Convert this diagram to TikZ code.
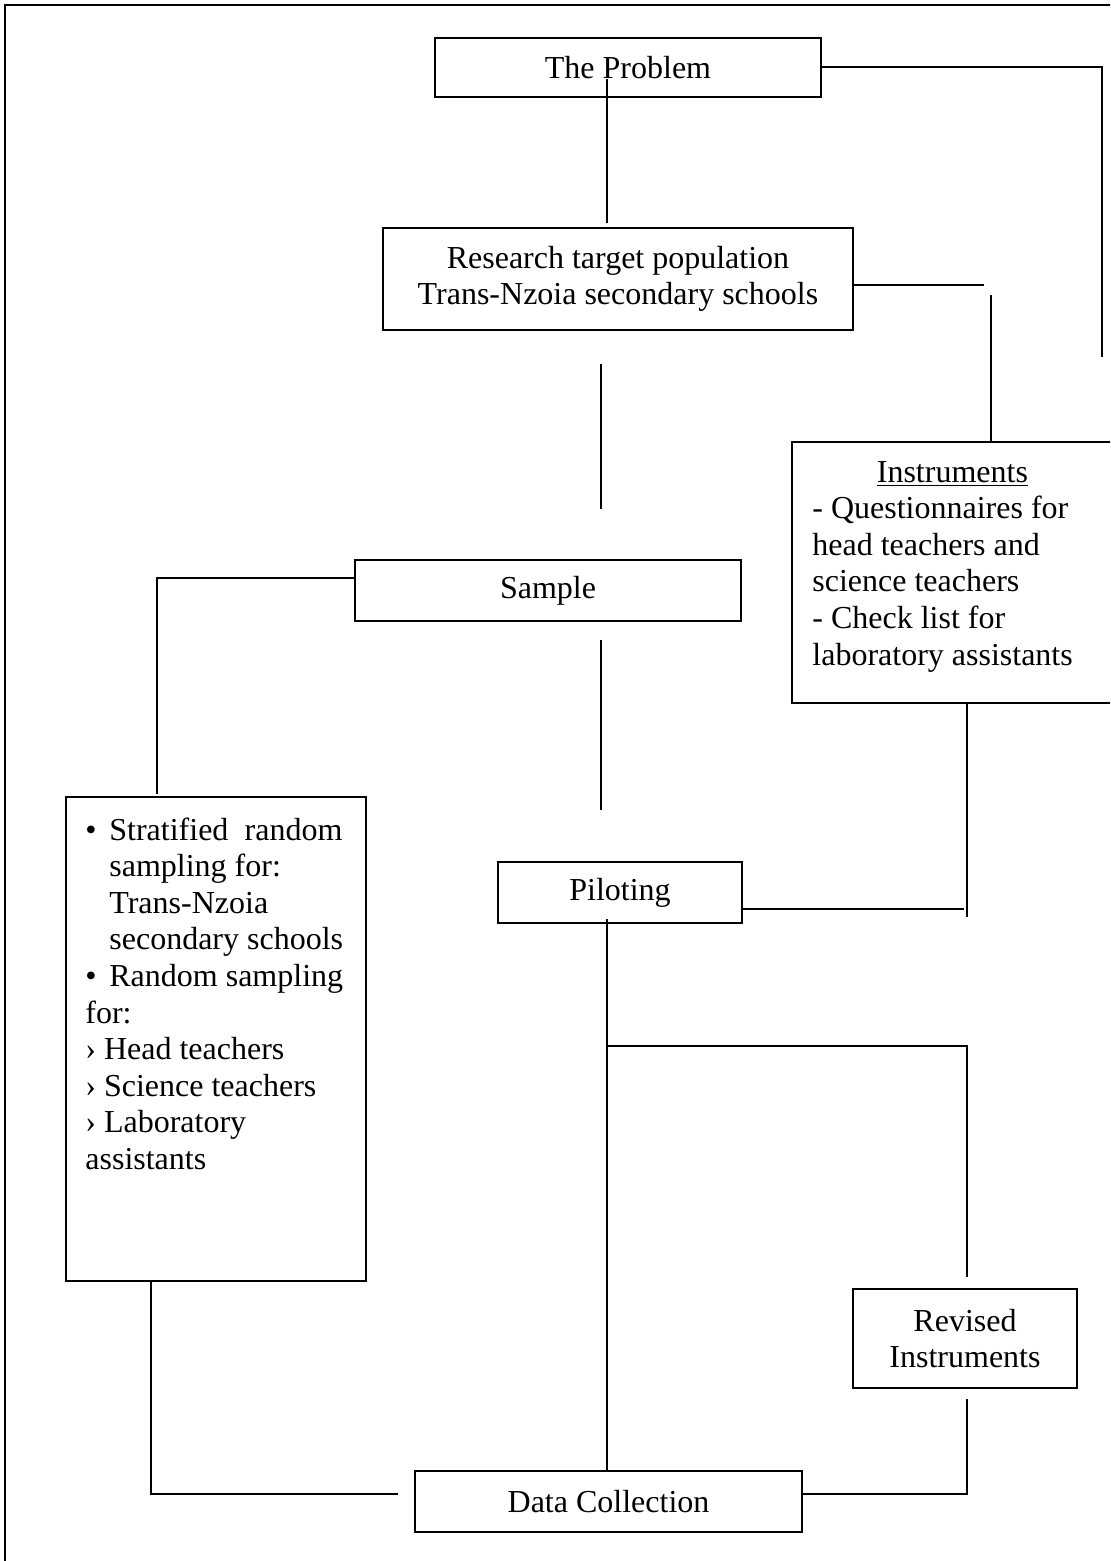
\documentclass[tikz,border=0pt]{standalone}
\usepackage{fontspec}
\setmainfont{Liberation Serif}
\begin{document}
\begin{tikzpicture}[x=0.5pt,y=-0.5pt,
  box/.style={draw, line width=1pt, inner sep=0pt, font=\fontsize{16pt}{18.3pt}\selectfont},
  txt/.style={inner sep=0pt, font=\fontsize{16pt}{18.3pt}\selectfont},
  conn/.style={line width=1pt},
  frame/.style={line width=1pt}]
\useasboundingbox (0,0) rectangle (1110,1561);
\clip (0,0) rectangle (1110,1561);
\draw[frame] (5,5) rectangle (1130,1580);

% boxes
\node[box, minimum width=193pt, minimum height=29.5pt] (prob) at (628,67.5) {The Problem};
\node[box, align=center, minimum width=235pt, minimum height=51pt] (res) at (618,279) {Research target population\\Trans-Nzoia secondary schools};
\node[box, minimum width=162pt, minimum height=130.5pt] (inst) at (954,572.5) {};
\node[txt, anchor=base west] (insttxt) at (812,482) {\parbox[t]{140pt}{\centering\underline{Instruments}\par\raggedright
- Questionnaires for\\
head teachers and\\
science teachers\\
- Check list for\\
laboratory assistants}};
\node[box, minimum width=193pt, minimum height=30.5pt] (samp) at (548,590.5) {Sample};
\node[box, minimum width=150pt, minimum height=242pt] (strat) at (216,1039) {};
\node[txt, anchor=base west] (strattxt) at (85,840) {\parbox[t]{135pt}{\raggedright
\makebox[12pt][l]{\textbullet}\hbox to 116.5pt{Stratified\hfil random}\\
\hspace*{12pt}sampling for:\\
\hspace*{12pt}Trans-Nzoia\\
\hspace*{12pt}secondary schools\\
\makebox[12pt][l]{\textbullet}Random sampling\\
for:\\
› Head teachers\\
› Science teachers\\
› Laboratory\\
assistants}};
\node[box, minimum width=122pt, minimum height=30.5pt] (pilot) at (620,892.5) {Piloting};
\node[box, align=center, minimum width=112pt, minimum height=49.5pt] (rev) at (965,1338.5) {Revised\\Instruments};
\node[box, minimum width=193.5pt, minimum height=30.5pt] (data) at (608.5,1501.5) {Data Collection};

% free connector ends
\coordinate (a1) at (607,79);
\coordinate (a2) at (607,223);
\coordinate (b1) at (1102,357);
\coordinate (c1) at (984,285);
\coordinate (c2) at (991,295);
\coordinate (d1) at (601,364);
\coordinate (d2) at (601,509);
\coordinate (e1) at (157,794);
\coordinate (f1) at (601,640);
\coordinate (f2) at (601,810);
\coordinate (g1) at (967,917);
\coordinate (g2) at (964,909);
\coordinate (h1) at (607,919);
\coordinate (h2) at (607,1046);
\coordinate (h3) at (967,1277);
\coordinate (i0) at (151,0);
\coordinate (i1) at (398,1494);
\coordinate (j1) at (967,1399);

% connectors
\draw[conn] (a1) -- (a2);
\draw[conn] (prob.east) -| (b1);
\draw[conn] ([yshift=-3pt]res.east) -- (c1);
\draw[conn] (c2) -- (inst.north -| c2);
\draw[conn] (d1) -- (d2);
\draw[conn] ([yshift=6.25pt]samp.west) -| (e1);
\draw[conn] (f1) -- (f2);
\draw[conn] (inst.south -| g1) -- (g1);
\draw[conn] ([yshift=-8.25pt]pilot.east) -- (g2);
\draw[conn] (h1) -- (data.north -| h1);
\draw[conn] (h2) -| (h3);
\draw[conn] (strat.south -| i0) |- (i1);
\draw[conn] (j1) |- ([yshift=3.75pt]data.east);
\end{tikzpicture}
\end{document}
